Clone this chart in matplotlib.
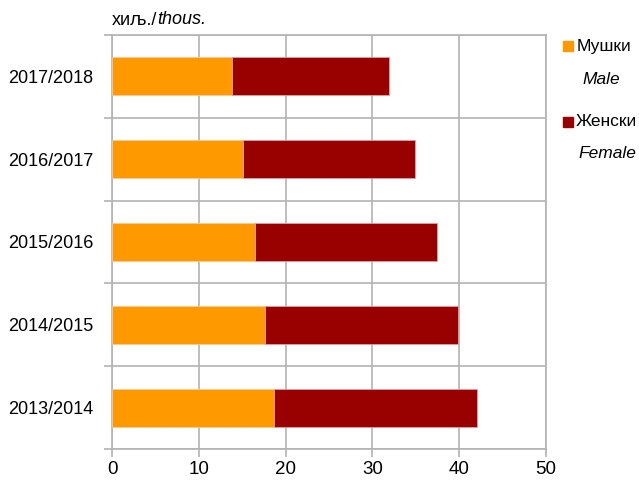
import numpy as np
from matplotlib import pyplot as plt
from matplotlib.patches import Rectangle

plt.rcParams["font.family"] = ["Liberation Sans", "DejaVu Sans"]

years = ["2013/2014", "2014/2015", "2015/2016", "2016/2017", "2017/2018"]
male = [18.7, 17.6, 16.5, 15.1, 13.8]
female = [23.4, 22.3, 20.9, 19.8, 18.1]

male_color = "#FF9900"
female_color = "#990000"
grid_color = "#B3B3B3"

fig = plt.figure(figsize=(6.39, 4.84), dpi=100)
ax = fig.add_axes([112 / 639, 1 - 449 / 484, 434 / 639, 414 / 484])

y = np.arange(len(years))
ax.barh(y, male, height=0.46, color=male_color, edgecolor="#F5C9A0", linewidth=0.6, zorder=3)
ax.barh(y, female, left=male, height=0.46, color=female_color, edgecolor="#E0A0A0", linewidth=0.6, zorder=3)

ax.set_xlim(0, 50)
ax.set_ylim(-0.5, len(years) - 0.5)
ax.set_xticks(np.arange(0, 51, 10))
ax.set_yticks(y)
ax.set_yticklabels(years)
ax.set_yticks(np.arange(-0.5, len(years)), minor=True)

ax.grid(axis="x", which="major", color=grid_color, linewidth=1.2, zorder=0)
ax.grid(axis="y", which="minor", color=grid_color, linewidth=1.2, zorder=0)

for s in ax.spines.values():
    s.set_color(grid_color)
    s.set_linewidth(1.2)

ax.tick_params(axis="x", which="major", length=6, color=grid_color, width=1.2,
               labelsize=13.5, pad=3, labelcolor="black")
ax.tick_params(axis="y", which="major", length=0, labelsize=13, pad=13.5)
ax.tick_params(axis="y", which="minor", length=6, color=grid_color, width=1.2)

# unit label above the plot
unit = fig.text(112 / 639, 1 - 20 / 484, "хиљ./", fontsize=13, va="center", ha="left")
ax.annotate("thous.", xy=(1, 0.5), xycoords=unit, fontsize=13, style="italic",
            va="center", ha="left")

# legend
fig.patches.append(Rectangle((563 / 639, 1 - 51 / 484), 10 / 639, 10 / 484,
                             transform=fig.transFigure, color=male_color))
fig.text(577 / 639, 1 - 46 / 484, "Мушки", fontsize=12.5, va="center", ha="left")
fig.text(582 / 639, 1 - 80 / 484, "Male", fontsize=12.5, style="italic", va="center", ha="left")
fig.patches.append(Rectangle((563 / 639, 1 - 127 / 484), 10 / 639, 10 / 484,
                             transform=fig.transFigure, color=female_color))
fig.text(576 / 639, 1 - 122 / 484, "Женски", fontsize=12.5, va="center", ha="left")
fig.text(578 / 639, 1 - 153 / 484, "Female", fontsize=12.5, style="italic", va="center", ha="left")

fig.savefig("out.png", dpi=100)
